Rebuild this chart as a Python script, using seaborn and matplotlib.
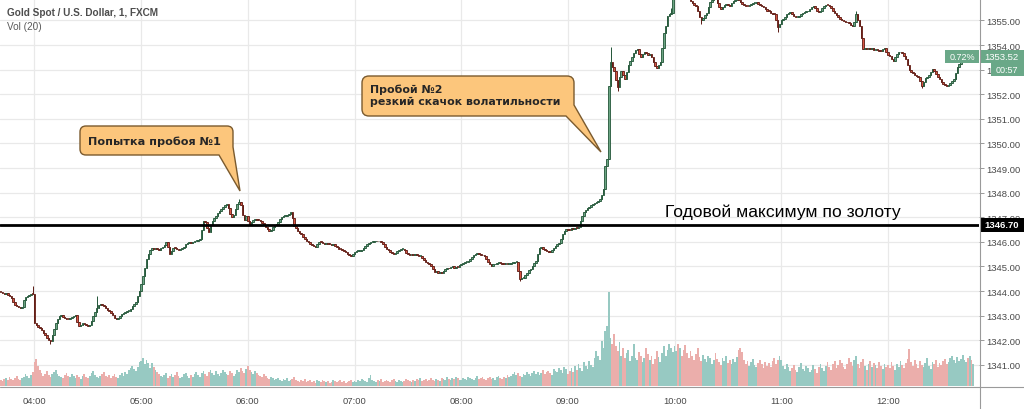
import numpy as np
import pandas as pd
import matplotlib
matplotlib.use("Agg")
import matplotlib.pyplot as plt
import seaborn as sns
from matplotlib.path import Path
from matplotlib.patches import PathPatch, Rectangle

# ---------------- data (1-minute XAUUSD, FXCM) ----------------
start_time = "2018-04-11 03:41"
first_open = 1343.98

c_0341 = [1343.95, 1343.92, 1343.90, 1343.93, 1343.86, 1343.80, 1343.72, 1343.55, 1343.42, 1343.38,
          1343.35, 1343.30, 1343.36, 1343.62, 1343.75, 1343.78, 1343.85, 1343.90, 1343.88]
c_04 = [1342.70, 1342.62, 1342.55, 1342.50, 1342.42, 1342.30, 1342.22, 1342.10, 1342.02, 1341.95,
        1342.20, 1342.46, 1342.70, 1342.88, 1343.00, 1343.02, 1342.95, 1342.90, 1342.88, 1342.85,
        1342.92, 1342.95, 1342.98, 1343.03, 1342.75, 1342.59, 1342.62, 1342.70, 1342.66, 1342.62,
        1342.58, 1342.60, 1342.80, 1343.00, 1343.15, 1343.30, 1343.42, 1343.47, 1343.44, 1343.40,
        1343.30, 1343.22, 1343.20, 1343.12, 1343.02, 1342.92, 1342.85, 1342.90, 1343.00, 1343.07,
        1343.12, 1343.15, 1343.18, 1343.20, 1343.28, 1343.38, 1343.47, 1343.55, 1343.78, 1344.00]
c_05 = [1344.30, 1344.63, 1344.95, 1345.30, 1345.52, 1345.66, 1345.74, 1345.70, 1345.76, 1345.72,
        1345.68, 1345.75, 1345.80, 1345.88, 1345.98, 1345.80, 1345.51, 1345.62, 1345.77, 1345.74,
        1345.70, 1345.68, 1345.72, 1345.76, 1345.80, 1345.90, 1345.96, 1345.99, 1345.95, 1346.00,
        1346.04, 1346.05, 1346.08, 1346.12, 1346.50, 1346.86, 1346.80, 1346.55, 1346.40, 1346.70,
        1346.86, 1346.95, 1347.05, 1347.18, 1347.27, 1347.32, 1347.40, 1347.48, 1347.54, 1347.38,
        1347.15, 1347.00, 1347.10, 1347.35, 1347.55, 1347.62, 1347.50, 1347.10, 1346.90, 1347.06]
c_06 = [1346.85, 1346.73, 1346.80, 1346.88, 1346.92, 1346.90, 1346.88, 1346.85, 1346.78, 1346.70,
        1346.60, 1346.52, 1346.46, 1346.50, 1346.60, 1346.68, 1346.73, 1346.82, 1346.92, 1347.00,
        1347.04, 1347.05, 1347.08, 1347.15, 1347.20, 1346.95, 1346.66, 1346.55, 1346.45, 1346.38,
        1346.32, 1346.20, 1346.10, 1346.05, 1345.98, 1345.92, 1345.88, 1345.85, 1345.80, 1345.92,
        1346.00, 1345.98, 1345.95, 1345.90, 1345.93, 1345.92, 1345.90, 1345.88, 1345.91, 1345.85,
        1345.78, 1345.72, 1345.70, 1345.66, 1345.62, 1345.58, 1345.52, 1345.48, 1345.44, 1345.52]
c_07 = [1345.58, 1345.62, 1345.63, 1345.64, 1345.66, 1345.75, 1345.85, 1345.91, 1345.95, 1345.98,
        1346.00, 1346.02, 1346.04, 1346.02, 1346.05, 1346.00, 1345.90, 1345.80, 1345.71, 1345.65,
        1345.60, 1345.55, 1345.51, 1345.55, 1345.62, 1345.68, 1345.70, 1345.70, 1345.66, 1345.55,
        1345.50, 1345.47, 1345.48, 1345.46, 1345.50, 1345.48, 1345.44, 1345.44, 1345.35, 1345.25,
        1345.18, 1345.14, 1345.10, 1345.02, 1344.90, 1344.76, 1344.80, 1344.72, 1344.78, 1344.75,
        1344.82, 1344.90, 1344.95, 1344.92, 1344.98, 1345.00, 1344.95, 1344.98, 1344.97, 1345.05]
c_08 = [1345.10, 1345.15, 1345.18, 1345.19, 1345.22, 1345.30, 1345.38, 1345.45, 1345.50, 1345.55,
        1345.52, 1345.48, 1345.45, 1345.44, 1345.30, 1345.18, 1345.08, 1345.03, 1345.08, 1345.12,
        1345.15, 1345.18, 1345.14, 1345.12, 1345.10, 1345.12, 1345.10, 1345.10, 1345.14, 1345.16,
        1345.18, 1345.18, 1344.80, 1344.49, 1344.52, 1344.55, 1344.65, 1344.75, 1344.85, 1344.90,
        1345.03, 1345.15, 1345.24, 1345.50, 1345.75, 1345.80, 1345.72, 1345.65, 1345.62, 1345.60,
        1345.58, 1345.65, 1345.75, 1345.85, 1345.90, 1345.95, 1346.10, 1346.30, 1346.45, 1346.52]
c_09 = [1346.50, 1346.48, 1346.55, 1346.52, 1346.58, 1346.55, 1346.60, 1346.85, 1347.07, 1347.20,
        1347.30, 1347.38, 1347.42, 1347.48, 1347.55, 1347.60, 1347.62, 1347.68, 1347.74, 1347.90,
        1348.15, 1349.10, 1349.37, 1352.35, 1353.30, 1353.10, 1352.95, 1352.60, 1352.29, 1352.70,
        1352.95, 1352.80, 1352.62, 1352.90, 1353.20, 1353.36, 1353.50, 1353.68, 1353.80, 1353.84,
        1353.65, 1353.51, 1353.62, 1353.70, 1353.66, 1353.60, 1353.64, 1353.50, 1353.32, 1353.15,
        1353.08, 1353.20, 1353.30, 1353.90, 1354.50, 1354.79, 1355.20, 1355.25, 1355.30, 1355.90]
c_10 = [1356.10, 1356.25, 1356.20, 1356.30, 1356.25, 1356.15, 1356.10, 1356.05, 1355.90, 1355.80,
        1355.70, 1355.65, 1355.60, 1355.40, 1355.15, 1355.00, 1355.10, 1355.22, 1355.30, 1355.55,
        1355.75, 1355.85, 1355.95, 1355.90, 1355.70, 1355.55, 1355.47, 1355.55, 1355.62, 1355.68,
        1355.65, 1355.60, 1355.70, 1355.78, 1355.85, 1355.92, 1355.85, 1355.75, 1355.68, 1355.62,
        1355.60, 1355.58, 1355.62, 1355.68, 1355.70, 1355.72, 1355.74, 1355.68, 1355.62, 1355.60,
        1355.55, 1355.45, 1355.40, 1355.38, 1355.32, 1355.28, 1355.26, 1355.00, 1354.73, 1354.85]
c_11 = [1355.00, 1355.05, 1355.15, 1355.25, 1355.30, 1355.33, 1355.28, 1355.20, 1355.13, 1355.15,
        1355.20, 1355.28, 1355.32, 1355.35, 1355.37, 1355.40, 1355.48, 1355.55, 1355.60, 1355.50,
        1355.40, 1355.33, 1355.38, 1355.50, 1355.60, 1355.64, 1355.62, 1355.58, 1355.50, 1355.40,
        1355.30, 1355.23, 1355.15, 1355.05, 1355.00, 1354.98, 1354.95, 1354.92, 1354.88, 1354.82,
        1354.79, 1354.95, 1355.26, 1355.00, 1354.79, 1354.30, 1353.84, 1353.90, 1353.85, 1353.88,
        1353.86, 1353.87, 1353.82, 1353.85, 1353.80, 1353.78, 1353.77, 1353.85, 1353.90, 1353.72]
c_12 = [1353.60, 1353.57, 1353.45, 1353.37, 1353.50, 1353.62, 1353.70, 1353.73, 1353.68, 1353.55,
        1353.43, 1353.20, 1353.00, 1352.92, 1352.88, 1352.80, 1352.75, 1352.70, 1352.55, 1352.35,
        1352.50, 1352.65, 1352.70, 1352.78, 1352.90, 1353.03, 1352.95, 1352.83, 1352.70, 1352.62,
        1352.50, 1352.40, 1352.38, 1352.35, 1352.38, 1352.45, 1352.55, 1352.62, 1352.85, 1353.10,
        1353.25, 1353.37, 1353.45, 1353.50, 1353.55, 1353.52, 1353.52, 1353.50, 1353.52]

# wick extremes that stick out of the bodies (minute index -> price)
high_wicks = {18: 1344.22, 54: 1343.80, 134: 1347.74, 343: 1353.92, 377: 1355.50, 481: 1355.40}
low_wicks = {28: 1341.85, 292: 1344.40, 347: 1352.15, 518: 1352.25, 437: 1354.55, 394: 1354.85}

v_0341 = [6, 5, 7, 8, 6, 9, 7, 6, 8, 10,
          7, 6, 8, 9, 12, 10, 8, 11, 14]
v_04 = [24, 27, 20, 16, 13, 10, 12, 15, 11, 9,
        12, 14, 16, 12, 10, 9, 8, 11, 13, 10,
        9, 12, 10, 8, 11, 9, 7, 10, 12, 9,
        8, 10, 13, 15, 11, 9, 8, 10, 12, 14,
        10, 9, 11, 8, 10, 12, 9, 8, 11, 13,
        10, 14, 12, 16, 18, 20, 17, 15, 19, 24]
v_05 = [25, 28, 22, 26, 23, 18, 23, 19, 16, 14,
        12, 10, 9, 11, 13, 8, 10, 12, 9, 11,
        14, 10, 8, 9, 12, 13, 10, 8, 11, 9,
        12, 14, 11, 9, 13, 15, 12, 10, 14, 16,
        13, 11, 15, 12, 10, 13, 16, 14, 12, 11,
        15, 13, 10, 12, 16, 14, 18, 15, 13, 17]
v_06 = [20, 16, 14, 12, 15, 13, 11, 10, 9, 12,
        10, 8, 7, 9, 8, 6, 7, 8, 6, 5,
        7, 6, 8, 5, 6, 7, 9, 6, 5, 4,
        6, 5, 7, 4, 5, 6, 4, 5, 3, 6,
        5, 4, 6, 5, 4, 5, 3, 4, 6, 5,
        4, 5, 6, 4, 5, 3, 4, 5, 6, 4]
v_07 = [5, 4, 6, 5, 7, 6, 5, 4, 8, 11,
        6, 5, 4, 6, 5, 7, 4, 5, 6, 5,
        4, 6, 7, 5, 4, 6, 5, 4, 5, 7,
        6, 5, 4, 6, 5, 7, 6, 8, 5, 6,
        7, 5, 6, 8, 6, 5, 7, 6, 5, 8,
        7, 6, 9, 7, 6, 8, 7, 9, 8, 6]
v_08 = [6, 8, 7, 6, 9, 8, 7, 6, 8, 10,
        7, 8, 9, 7, 6, 8, 9, 7, 8, 6,
        9, 10, 8, 7, 9, 8, 11, 9, 10, 12,
        14, 11, 13, 10, 9, 12, 11, 14, 12, 10,
        13, 15, 12, 14, 11, 13, 16, 12, 14, 15,
        13, 11, 17, 15, 14, 18, 16, 13, 19, 17]
v_09 = [12, 15, 18, 14, 20, 16, 22, 18, 15, 24,
        20, 17, 25, 21, 19, 28, 35, 30, 26, 45,
        38, 55, 60, 94, 48, 42, 52, 40, 35, 44,
        30, 38, 28, 33, 36, 25, 30, 42, 28, 26,
        34, 30, 24, 28, 38, 32, 26, 30, 22, 27,
        35, 29, 24, 33, 40, 30, 36, 42, 38, 34]
v_10 = [40, 35, 42, 38, 30, 36, 41, 33, 28, 35,
        30, 26, 32, 38, 29, 25, 31, 27, 24, 30,
        28, 22, 26, 33, 27, 24, 21, 28, 25, 30,
        23, 26, 22, 27, 24, 29, 36, 38, 34, 26,
        22, 25, 20, 24, 27, 21, 19, 23, 26, 22,
        18, 24, 20, 23, 19, 25, 28, 22, 26, 30]
v_11 = [26, 20, 17, 22, 19, 15, 18, 21, 16, 14,
        19, 23, 17, 15, 20, 18, 14, 16, 21, 17,
        13, 19, 22, 18, 15, 20, 24, 19, 16, 22,
        25, 18, 21, 26, 23, 19, 17, 22, 28, 24,
        20, 26, 30, 22, 18, 24, 27, 20, 16, 22,
        25, 19, 23, 21, 18, 24, 20, 17, 22, 19]
v_12 = [21, 18, 24, 20, 16, 22, 19, 25, 21, 18,
        23, 27, 37, 24, 20, 26, 22, 18, 25, 21,
        19, 23, 28, 20, 17, 24, 22, 26, 19, 23,
        21, 25, 27, 22, 24, 28, 30, 26, 23, 29,
        25, 27, 31, 26, 24, 28, 30, 26, 22]

price_ticks = [1341, 1342, 1343, 1344, 1345, 1346, 1347, 1348, 1349, 1350,
               1351, 1352, 1353, 1354, 1355]
yearly_high = 1346.70
last_price = 1353.52
change_pct = "0.72%"
countdown = "00:57"
title_text = "Gold Spot / U.S. Dollar, 1, FXCM"
vol_text = "Vol (20)"
level_text = "Годовой максимум по золоту"
callout1_text = "Попытка пробоя №1"
callout2_text = "Пробой №2\nрезкий скачок волатильности"

# ---------------- build frame ----------------
closes = np.array(c_0341 + c_04 + c_05 + c_06 + c_07 + c_08 + c_09 + c_10 + c_11 + c_12)
vols = np.array(v_0341 + v_04 + v_05 + v_06 + v_07 + v_08 + v_09 + v_10 + v_11 + v_12, dtype=float)
if len(closes) != len(vols):
    raise SystemExit(f"length mismatch {len(closes)} {len(vols)}")
n = len(closes)
times = pd.date_range(start_time, periods=n, freq="min")
opens = np.concatenate([[first_open], closes[:-1]])
highs = np.maximum(opens, closes)
lows = np.minimum(opens, closes)
for k, v in high_wicks.items():
    highs[k] = max(highs[k], v)
for k, v in low_wicks.items():
    lows[k] = min(lows[k], v)
idx = np.arange(n)
up = closes >= opens
df = pd.DataFrame({"t": idx, "open": opens, "close": closes, "vol": vols,
                   "dir": np.where(up, "up", "down")})

# ---------------- figure ----------------
sns.set_theme(style="white")
plt.rcParams['font.family'] = ['Liberation Sans', 'DejaVu Sans']

W, H = 1024, 410
PR, PB = 979, 387
fig = plt.figure(figsize=(W / 100, H / 100), dpi=100)
fig.patch.set_facecolor("white")
pos = [0, (H - PB) / H, PR / W, PB / H]

YMIN, YMAX = 1340.14, 1355.874
XMIN, XMAX = -0.4, 550.2

# grid layer
axg = fig.add_axes(pos)
axg.set_xlim(XMIN, XMAX); axg.set_ylim(YMIN, YMAX)
hour_pos = idx[times.minute == 0]
hour_lab = [t.strftime("%H:%M") for t in times[times.minute == 0]]
for hp in hour_pos:
    axg.axvline(hp, color="#e9e9e9", lw=0.9, zorder=0)
for pt in price_ticks:
    axg.axhline(pt, color="#e9e9e9", lw=0.9, zorder=0)
axg.axis("off")

# volume layer
axv = fig.add_axes(pos)
axv.patch.set_visible(False)
sns.barplot(data=df, x="t", y="vol", hue="dir",
            palette={"up": "#8fd1c8", "down": "#f6a4a0"},
            native_scale=True, dodge=False, width=1.0, linewidth=0,
            errorbar=None, legend=False, ax=axv)
axv.set_xlim(XMIN, XMAX)
axv.set_ylim(0, PB)
axv.axis("off")

# candles layer
ax = fig.add_axes(pos)
ax.patch.set_visible(False)
body_col = np.where(up, "#6ba583", "#d75442")
edge_col = np.where(up, "#225437", "#5b1a13")
ax.vlines(idx, lows, highs, colors=edge_col, lw=0.7, zorder=2)
ax.bar(idx, np.maximum(np.abs(closes - opens), 0.035), bottom=np.minimum(opens, closes),
       width=0.85, color=body_col, edgecolor=edge_col, linewidth=0.6, zorder=3)
ax.axhline(yearly_high, color="black", lw=2.0, zorder=5)
ax.set_xlim(XMIN, XMAX)
ax.set_ylim(YMIN, YMAX)
for s in ax.spines.values():
    s.set_visible(False)
ax.yaxis.tick_right()
ax.set_yticks(price_ticks)
ax.set_yticklabels([f"{p:.2f}" for p in price_ticks])
ax.set_xticks(hour_pos)
ax.set_xticklabels(hour_lab)
ax.tick_params(axis="y", which="both", right=True, length=3.5, width=0.7, color="#9a9a9a",
               labelsize=6.8, labelcolor="#4a4a4a", pad=2)
ax.tick_params(axis="x", which="both", bottom=False, length=0, labelsize=6.8,
               labelcolor="#4a4a4a", pad=7)
ax.set_xlabel(""); ax.set_ylabel("")

# ---------------- overlay (pixel coordinates) ----------------
ov = fig.add_axes([0, 0, 1, 1])
ov.set_xlim(0, W); ov.set_ylim(H, 0)
ov.axis("off")
ov.patch.set_visible(False)


def py(price):
    return (YMAX - price) / (YMAX - YMIN) * PB


ov.plot([0, W], [PB + 0.5, PB + 0.5], color="#9a9a9a", lw=0.8)
ov.plot([PR + 0.5, PR + 0.5], [0, H], color="#9a9a9a", lw=0.8)

ov.text(7, 13.5, title_text, fontsize=7.2, fontweight="bold", color="#4d4d4d", va="center", ha="left")
ov.text(7, 27, vol_text, fontsize=7.2, color="#5a5a5a", va="center", ha="left")

# right-axis price labels
yh = py(yearly_high)
ov.add_patch(Rectangle((PR + 1, yh - 7), W - PR - 1, 14, facecolor="black", edgecolor="none"))
ov.text(PR + 5, yh, f"{yearly_high:.2f}", color="white", fontsize=6.8, fontweight="bold",
        va="center", ha="left")
yl = py(last_price)
green = "#6aa888"
ov.add_patch(Rectangle((945, yl - 6.5), PR - 945, 13, facecolor=green, edgecolor="none"))
ov.add_patch(Rectangle((PR + 1, yl - 6.5), W - PR - 1, 13, facecolor=green, edgecolor="none"))
ov.add_patch(Rectangle((991, yl + 6.5), W - 991, 12.5, facecolor=green, edgecolor="none"))
ov.text(962, yl, change_pct, color="white", fontsize=6.5, va="center", ha="center")
ov.text(PR + 5, yl, f"{last_price:.2f}", color="white", fontsize=6.8, va="center", ha="left")
ov.text(1007, yl + 12.8, countdown, color="white", fontsize=6.5, va="center", ha="center")

# level caption
ov.text(665, 212.5, level_text, fontsize=12.6, color="black", va="center", ha="left")


# callouts
def callout(L, T, R, B, r, tail):
    verts = [(L + r, T), (R - r, T), (R, T), (R, T + r)]
    codes = [Path.MOVETO, Path.LINETO, Path.CURVE3, Path.CURVE3]
    verts += tail
    codes += [Path.LINETO] * len(tail)
    verts += [(L + r, B), (L, B), (L, B - r), (L, T + r), (L, T), (L + r, T), (L + r, T)]
    codes += [Path.LINETO, Path.CURVE3, Path.CURVE3, Path.LINETO, Path.CURVE3, Path.CURVE3,
              Path.CLOSEPOLY]
    ov.add_patch(PathPatch(Path(verts, codes), facecolor="#fcc67c", edgecolor="#7a5a2e",
                           lw=1.0, joinstyle="miter"))


callout(80, 127, 233, 156, 6, [(233, 148), (240, 192), (219, 156)])
ov.text(88, 141.5, callout1_text, fontsize=8.1, fontweight="bold", color="#262626",
        va="center", ha="left", family=["DejaVu Sans"])
callout(362, 77, 574, 117, 7, [(574, 106), (601, 153), (566, 117)])
ov.text(370, 96, callout2_text, fontsize=7.95, fontweight="bold", color="#262626",
        va="center", ha="left", linespacing=1.2, family=["DejaVu Sans"])

fig.savefig("out.png", dpi=100, facecolor="white")
